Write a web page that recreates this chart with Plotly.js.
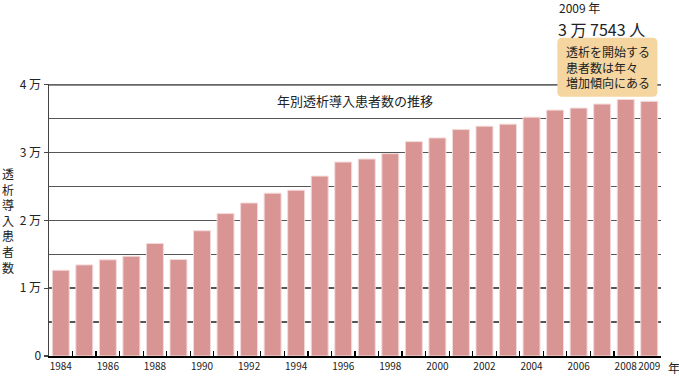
<!DOCTYPE html>
<html><head><meta charset="utf-8">
<script src="https://cdn.plot.ly/plotly-3.0.1.min.js"></script>
<style>html,body{margin:0;padding:0;background:#fff}#c{width:679px;height:376px}</style>
</head><body><div id="c"></div>
<script>
const years = [1984,1985,1986,1987,1988,1989,1990,1991,1992,1993,1994,1995,1996,1997,1998,1999,2000,2001,2002,2003,2004,2005,2006,2007,2008,2009];
const patients = [12640,13430,14180,14710,16590,14220,18470,20990,22560,24000,24440,26520,28590,29040,29830,31600,32150,33380,33880,34180,35210,36250,36550,37140,37820,37543];
const xLabelYears = [1984,1986,1988,1990,1992,1994,1996,1998,2000,2002,2004,2006,2008,2009];
const yTickVals = [0,10000,20000,30000,40000];
const yTickText = ["0","1 万","2 万","3 万","4 万"];
const chartTitle = "年別透析導入患者数の推移";
const yTitle = "透析導入患者数";
const calloutYear = "2009 年";
const calloutValue = "3 万 7543 人";
const calloutNote = ["透析を開始する","患者数は年々","増加傾向にある"];

const font = "Noto Sans CJK JP, Noto Sans, sans-serif";
const L=49, R=660.6, T=84.3, B=356, W=679, H=376;
const px = x => (x-L)/(R-L);
const py = y => (B-y)/(B-T);

function roundRect(x0,y0,x1,y1,r){
  const X=v=>px(v).toFixed(5), Y=v=>py(v).toFixed(5);
  return `M ${X(x0+r)} ${Y(y0)} L ${X(x1-r)} ${Y(y0)} Q ${X(x1)} ${Y(y0)} ${X(x1)} ${Y(y0+r)} L ${X(x1)} ${Y(y1-r)} Q ${X(x1)} ${Y(y1)} ${X(x1-r)} ${Y(y1)} L ${X(x0+r)} ${Y(y1)} Q ${X(x0)} ${Y(y1)} ${X(x0)} ${Y(y1-r)} L ${X(x0)} ${Y(y0+r)} Q ${X(x0)} ${Y(y0)} ${X(x0+r)} ${Y(y0)} Z`;
}

const data = [
  {type:'bar', x:years, y:patients, marker:{color:'#D99594', line:{color:'#F3DADA', width:1}}, width:0.72, hoverinfo:'skip'},
  {type:'scatter', x:years.map(v=>v+0.5), y:years.map(()=>0), xaxis:'x2', mode:'none', hoverinfo:'skip', showlegend:false}
];

const layout = {
  width:W, height:H, showlegend:false,
  margin:{l:L, r:W-R, t:T, b:H-B, pad:0},
  paper_bgcolor:'#fff', plot_bgcolor:'#fff',
  font:{family:font, color:'#222', size:12},
  xaxis:{range:[1983.5,2009.5], tickmode:'array', tickvals:xLabelYears, ticktext:xLabelYears.map(String), tickangle:0,
    ticks:'', showgrid:false, zeroline:false, showline:true, linecolor:'#000', linewidth:1.5, automargin:false,
    tickfont:{size:10, color:'#222', family:font}, fixedrange:true},
  xaxis2:{overlaying:'x', anchor:'y', side:'bottom', range:[1983.5,2009.5], tickmode:'array',
    tickvals:years.map(v=>v+0.5), showticklabels:false, ticks:'inside', ticklen:5, tickwidth:1.2, tickcolor:'#000',
    showgrid:false, zeroline:false, showline:false},
  yaxis:{range:[0,40100], tickmode:'array', tickvals:yTickVals, ticktext:yTickText, ticks:'outside', ticklen:4, tickwidth:1.2, tickcolor:'#444',
    showgrid:true, gridcolor:'#555', gridwidth:1.5, zeroline:false, showline:true, linecolor:'#444', linewidth:1.5, automargin:false,
    minor:{dtick:5000, tick0:0, showgrid:true, gridcolor:'#555', gridwidth:1.5, griddash:'solid', ticks:''},
    tickfont:{size:12, color:'#222', family:font}, fixedrange:true},
  shapes:[
    {type:'line', xref:'paper', yref:'y', x0:0, x1:1, y0:yTickVals[yTickVals.length-1], y1:yTickVals[yTickVals.length-1], line:{color:'#666', width:2}, layer:'below'},
    {type:'path', xref:'paper', yref:'paper', path:roundRect(557,38,657,97,5), fillcolor:'#F5D5A0', line:{width:0}, layer:'above'}
  ],
  annotations:[
    {xref:'paper', yref:'paper', x:px(355), y:py(101), text:chartTitle, showarrow:false, font:{size:13, color:'#222'}, xanchor:'center', yanchor:'middle'},
    {xref:'paper', yref:'paper', x:px(8), y:py(221), text:yTitle.split('').join('<br>'), showarrow:false, font:{size:12, color:'#222'}, xanchor:'center', yanchor:'middle'},
    {xref:'paper', yref:'paper', x:px(666), y:py(367), text:'年', showarrow:false, font:{size:12, color:'#222'}, xanchor:'left', yanchor:'middle'},
    {xref:'paper', yref:'paper', x:px(558), y:py(7.5), text:calloutYear, showarrow:false, borderpad:0, font:{size:12, color:'#222'}, xanchor:'left', yanchor:'middle'},
    {xref:'paper', yref:'paper', x:px(557), y:py(29.5), text:calloutValue, showarrow:false, borderpad:0, font:{size:16, color:'#222'}, xanchor:'left', yanchor:'middle'},
    {xref:'paper', yref:'paper', x:px(564), y:py(67), text:calloutNote.join('<br>'), showarrow:false, align:'left', font:{size:12, color:'#222'}, xanchor:'left', yanchor:'middle'}
  ]
};
Plotly.newPlot('c', data, layout, {displayModeBar:false, staticPlot:true});
</script></body></html>
